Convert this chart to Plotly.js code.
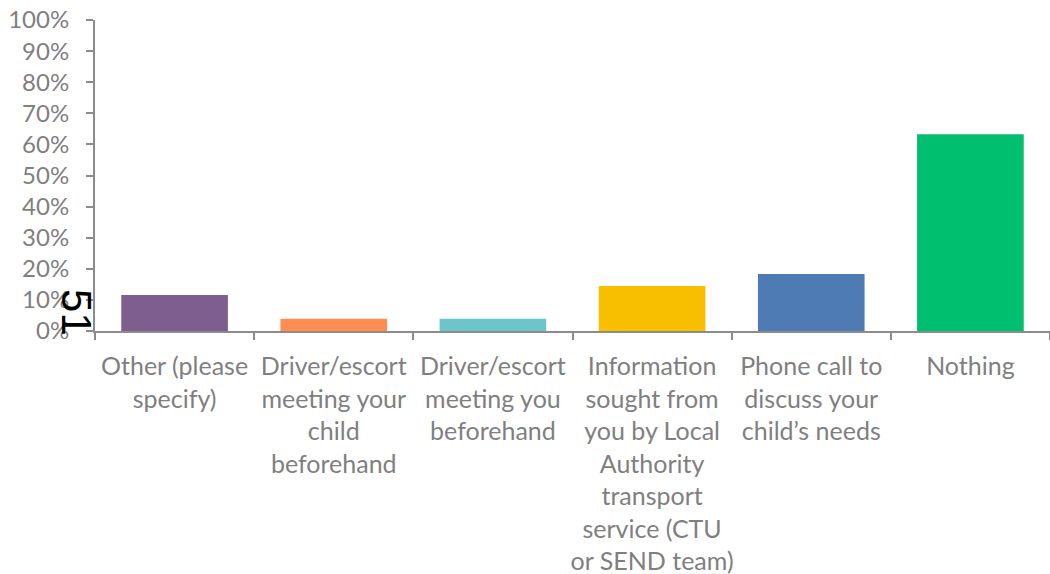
<!DOCTYPE html>
<html>
<head>
<meta charset="utf-8">
<script src="https://cdn.plot.ly/plotly-3.0.1.min.js"></script>
<style>html,body{margin:0;padding:0;background:#fff;}#chart{width:1050px;height:574px;}</style>
</head>
<body>
<div id="chart"></div>
<script>
const categories = [
  "Other (please<br>specify)",
  "Driver/escort<br>meeting your<br>child<br>beforehand",
  "Driver/escort<br>meeting you<br>beforehand",
  "Information<br>sought from<br>you by Local<br>Authority<br>transport<br>service (CTU<br>or SEND team)",
  "Phone call to<br>discuss your<br>child’s needs",
  "Nothing"
];
const values = [0.116, 0.039, 0.039, 0.145, 0.183, 0.633];
const barColors = ["#7E5E8E", "#FF8C50", "#6CC5CA", "#F8BE00", "#4E7BB4", "#00BF6F"];
const yTicks = [0,0.1,0.2,0.3,0.4,0.5,0.6,0.7,0.8,0.9,1.0];
const yTickText = ["0%","10%","20%","30%","40%","50%","60%","70%","80%","90%","100%"];
const pageNumber = "51";

const font = "Lato, 'Open Sans', sans-serif";
Plotly.newPlot('chart', [{
  type: 'bar',
  x: categories,
  y: values,
  marker: {color: barColors},
  hoverinfo: 'none'
}], {
  width: 1050, height: 574,
  margin: {l: 95, r: 0, t: 20, b: 243},
  paper_bgcolor: '#fff', plot_bgcolor: '#fff',
  bargap: 0.33,
  showlegend: false,
  font: {family: font, color: '#7f7f7f', size: 21},
  xaxis: {
    type: 'category',
    showline: true, linecolor: '#8c8c8c', linewidth: 2,
    ticks: 'outside', tickson: 'boundaries', ticklen: 7, tickcolor: '#8c8c8c', tickwidth: 2,
    tickfont: {family: font, size: 25, color: '#7f7f7f'},
    ticklabelstandoff: 12,
    tickangle: 0,
    showgrid: false, zeroline: false
  },
  yaxis: {
    range: [0, 1],
    tickvals: yTicks, ticktext: yTickText,
    showline: true, linecolor: '#8c8c8c', linewidth: 2,
    ticks: 'outside', ticklen: 7, tickcolor: '#8c8c8c', tickwidth: 2,
    tickfont: {family: font, size: 24, color: '#7f7f7f'},
    ticklabelstandoff: 12,
    showgrid: false, zeroline: false
  },
  annotations: [{
    text: pageNumber, xref: 'paper', yref: 'paper', x: -0.046, y: -0.023,
    showarrow: false, textangle: 90,
    font: {family: "'Liberation Sans', Arial, sans-serif", size: 42, color: '#000'}
  }]
}, {displayModeBar: false, staticPlot: true});
</script>
</body>
</html>
